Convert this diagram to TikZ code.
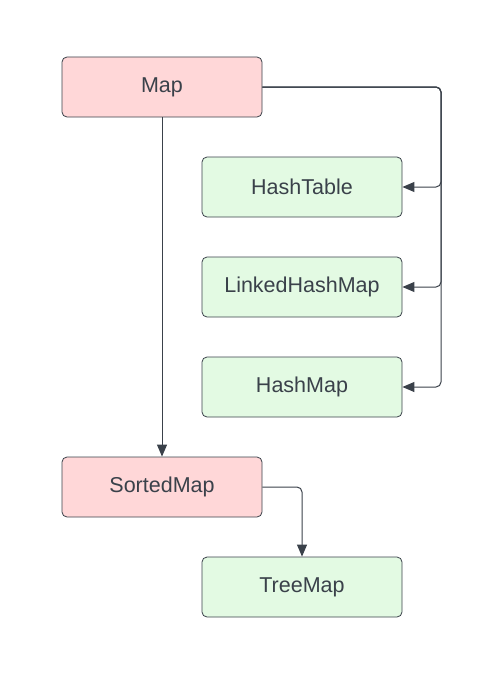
\documentclass[tikz,border=0pt]{standalone}
\usepackage{fontspec}
\setmainfont{Liberation Sans}
\usetikzlibrary{arrows.meta,positioning}
\tikzset{
	>={Triangle[length=12pt,width=10pt]},
}
\definecolor{linegray}{HTML}{3A414A}
\definecolor{mapred}{HTML}{FFD7D8}
\definecolor{implgreen}{HTML}{E3FAE3}

\begin{document}
\begin{tikzpicture}[x=1pt,y=-1pt,
	box/.style = {draw=linegray, line width=0.8pt, rounded corners=5pt, minimum width=200pt, minimum height=60pt, inner sep=0, font=\fontsize{21.5}{25}\selectfont, text=linegray},
	iface/.style = {box, fill=mapred},
	impl/.style = {box, fill=implgreen},
	link/.style = {->, draw=linegray, line width=1pt, rounded corners=5pt}]
\useasboundingbox (0,0) rectangle (484,677);
\node[iface] (map) at (162,87) {Map};
\node[impl] (hashtable) at (302,187) {HashTable};
\node[impl,below=39.2pt of hashtable] (linkedhashmap) {LinkedHashMap};
\node[impl,below=39.2pt of linkedhashmap] (hashmap) {HashMap};
\node[iface] (sortedmap) at (162,487) {SortedMap};
\node[impl] (treemap) at (302,587) {TreeMap};
\coordinate (bus) at (441,87);
% Map to its implementations
\draw[link] (map.east) -- (bus) |- (hashtable.east);
\draw[link] (map.east) -- (bus) |- (linkedhashmap.east);
\draw[link] (map.east) -- (bus) |- (hashmap.east);
\draw[link] (map.south) -- (sortedmap.north);
% SortedMap to TreeMap
\draw[link] (sortedmap.east) -| (treemap.north);
\end{tikzpicture}
\end{document}
